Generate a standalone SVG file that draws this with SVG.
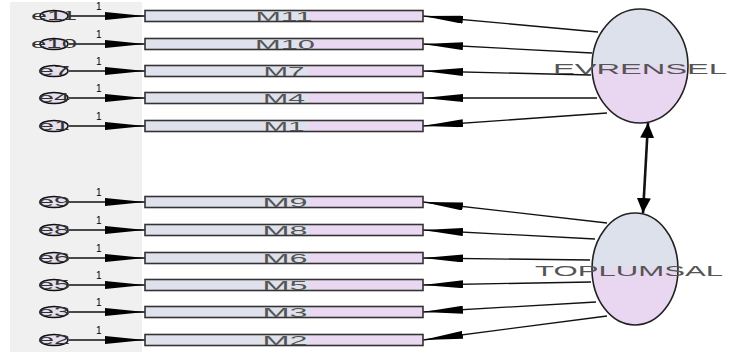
<svg xmlns="http://www.w3.org/2000/svg" width="731" height="356" viewBox="0 0 731 356">
<defs>
<linearGradient id="rg" x1="0" y1="0" x2="1" y2="0">
<stop offset="0" stop-color="#dfe2ec"/><stop offset="0.59" stop-color="#dfe2ec"/><stop offset="0.59" stop-color="#ead8f2"/><stop offset="1" stop-color="#ead8f2"/>
</linearGradient>
<linearGradient id="eg" x1="0" y1="0" x2="0" y2="1">
<stop offset="0" stop-color="#dde1ec"/><stop offset="0.5" stop-color="#dde1ec"/><stop offset="0.5" stop-color="#e9d7f1"/><stop offset="1" stop-color="#e9d7f1"/>
</linearGradient>
<marker id="la" viewBox="0 0 40 8" refX="40" refY="4" markerWidth="40" markerHeight="8" markerUnits="userSpaceOnUse" orient="auto"><path d="M0,0 L40,4 L0,8 z" fill="#000"/></marker>
<marker id="ba" viewBox="0 0 15 14" refX="15" refY="7" markerWidth="15" markerHeight="14" markerUnits="userSpaceOnUse" orient="auto"><path d="M0,0 L15,7 L0,14 z" fill="#000"/></marker>
<marker id="bs" viewBox="0 0 15 14" refX="0" refY="7" markerWidth="15" markerHeight="14" markerUnits="userSpaceOnUse" orient="auto"><path d="M15,0 L0,7 L15,14 z" fill="#000"/></marker>
</defs>
<style>
.obs{fill:url(#rg);stroke:#333;stroke-width:1.6}
.lat{fill:url(#eg);stroke:#222;stroke-width:1.6}
.err{fill:#e6e0ee;stroke:#111;stroke-width:1.6}
.ml{font-family:"Liberation Sans",Arial,sans-serif;font-size:13px;fill:#555;text-anchor:middle}
.el{font-family:"Liberation Sans",Arial,sans-serif;font-size:12px;fill:#333;text-anchor:middle}
.ll{font-family:"Liberation Sans",Arial,sans-serif;font-size:14px;fill:#555;text-anchor:middle}
.one{font-family:"Liberation Sans",Arial,sans-serif;font-size:10px;fill:#000}
.ld{stroke:#111;stroke-width:1.3;fill:none;marker-end:url(#la)}
</style>
<rect x="10" y="2" width="132" height="350" fill="#f0f0f0"/>
<g id="connectors">
<line class="ld" x1="69" y1="16" x2="145" y2="16"/>
<line class="ld" x1="69" y1="44" x2="145" y2="44"/>
<line class="ld" x1="69" y1="71" x2="145" y2="71"/>
<line class="ld" x1="69" y1="98" x2="145" y2="98"/>
<line class="ld" x1="69" y1="126" x2="145" y2="126"/>
<line class="ld" x1="69" y1="202" x2="145" y2="202"/>
<line class="ld" x1="69" y1="230" x2="145" y2="230"/>
<line class="ld" x1="69" y1="258" x2="145" y2="258"/>
<line class="ld" x1="69" y1="285" x2="145" y2="285"/>
<line class="ld" x1="69" y1="312" x2="145" y2="312"/>
<line class="ld" x1="69" y1="340" x2="145" y2="340"/>
<text class="one" x="96" y="10">1</text>
<text class="one" x="96" y="38">1</text>
<text class="one" x="96" y="65">1</text>
<text class="one" x="96" y="92">1</text>
<text class="one" x="96" y="120">1</text>
<text class="one" x="96" y="196">1</text>
<text class="one" x="96" y="224">1</text>
<text class="one" x="96" y="252">1</text>
<text class="one" x="96" y="279">1</text>
<text class="one" x="96" y="306">1</text>
<text class="one" x="96" y="334">1</text>
<line class="ld" x1="598" y1="32" x2="423" y2="16"/>
<line class="ld" x1="592" y1="53" x2="423" y2="44"/>
<line class="ld" x1="591" y1="75" x2="423" y2="71"/>
<line class="ld" x1="597" y1="98" x2="423" y2="98"/>
<line class="ld" x1="607" y1="113" x2="423" y2="126"/>
<line class="ld" x1="607" y1="223" x2="423" y2="202"/>
<line class="ld" x1="595" y1="239" x2="423" y2="230"/>
<line class="ld" x1="590" y1="260" x2="423" y2="258"/>
<line class="ld" x1="591" y1="282" x2="423" y2="285"/>
<line class="ld" x1="596" y1="302" x2="423" y2="312"/>
<line class="ld" x1="607" y1="316" x2="423" y2="340"/>
<line stroke="#111" stroke-width="2.6" x1="648" y1="123" x2="643" y2="213" marker-start="url(#bs)" marker-end="url(#ba)"/>
</g>
<g id="e11"><ellipse class="err" cx="54" cy="16" rx="14" ry="5.5"/><text class="el" x="54" y="20" textLength="46" lengthAdjust="spacingAndGlyphs">e11</text></g>
<g id="e10"><ellipse class="err" cx="54" cy="44" rx="14" ry="5.5"/><text class="el" x="54" y="48" textLength="46" lengthAdjust="spacingAndGlyphs">e10</text></g>
<g id="e7"><ellipse class="err" cx="54" cy="71" rx="14" ry="5.5"/><text class="el" x="54" y="75" textLength="32" lengthAdjust="spacingAndGlyphs">e7</text></g>
<g id="e4"><ellipse class="err" cx="54" cy="98" rx="14" ry="5.5"/><text class="el" x="54" y="102" textLength="32" lengthAdjust="spacingAndGlyphs">e4</text></g>
<g id="e1"><ellipse class="err" cx="54" cy="126" rx="14" ry="5.5"/><text class="el" x="54" y="130" textLength="32" lengthAdjust="spacingAndGlyphs">e1</text></g>
<g id="e9"><ellipse class="err" cx="54" cy="202" rx="14" ry="5.5"/><text class="el" x="54" y="206" textLength="32" lengthAdjust="spacingAndGlyphs">e9</text></g>
<g id="e8"><ellipse class="err" cx="54" cy="230" rx="14" ry="5.5"/><text class="el" x="54" y="234" textLength="32" lengthAdjust="spacingAndGlyphs">e8</text></g>
<g id="e6"><ellipse class="err" cx="54" cy="258" rx="14" ry="5.5"/><text class="el" x="54" y="262" textLength="32" lengthAdjust="spacingAndGlyphs">e6</text></g>
<g id="e5"><ellipse class="err" cx="54" cy="285" rx="14" ry="5.5"/><text class="el" x="54" y="289" textLength="32" lengthAdjust="spacingAndGlyphs">e5</text></g>
<g id="e3"><ellipse class="err" cx="54" cy="312" rx="14" ry="5.5"/><text class="el" x="54" y="316" textLength="32" lengthAdjust="spacingAndGlyphs">e3</text></g>
<g id="e2"><ellipse class="err" cx="54" cy="340" rx="14" ry="5.5"/><text class="el" x="54" y="344" textLength="32" lengthAdjust="spacingAndGlyphs">e2</text></g>
<g id="M11"><rect class="obs" x="145" y="10.5" width="278" height="11"/><text class="ml" x="284" y="21" textLength="57" lengthAdjust="spacingAndGlyphs">M11</text></g>
<g id="M10"><rect class="obs" x="145" y="38.5" width="278" height="11"/><text class="ml" x="285" y="49" textLength="60" lengthAdjust="spacingAndGlyphs">M10</text></g>
<g id="M7"><rect class="obs" x="145" y="65.5" width="278" height="11"/><text class="ml" x="284" y="76" textLength="41" lengthAdjust="spacingAndGlyphs">M7</text></g>
<g id="M4"><rect class="obs" x="145" y="92.5" width="278" height="11"/><text class="ml" x="284" y="103" textLength="42" lengthAdjust="spacingAndGlyphs">M4</text></g>
<g id="M1"><rect class="obs" x="145" y="120.5" width="278" height="11"/><text class="ml" x="284" y="131" textLength="41" lengthAdjust="spacingAndGlyphs">M1</text></g>
<g id="M9"><rect class="obs" x="145" y="196.5" width="278" height="11"/><text class="ml" x="285" y="207" textLength="45" lengthAdjust="spacingAndGlyphs">M9</text></g>
<g id="M8"><rect class="obs" x="145" y="224.5" width="278" height="11"/><text class="ml" x="285" y="235" textLength="45" lengthAdjust="spacingAndGlyphs">M8</text></g>
<g id="M6"><rect class="obs" x="145" y="252.5" width="278" height="11"/><text class="ml" x="285" y="263" textLength="45" lengthAdjust="spacingAndGlyphs">M6</text></g>
<g id="M5"><rect class="obs" x="145" y="279.5" width="278" height="11"/><text class="ml" x="285" y="290" textLength="45" lengthAdjust="spacingAndGlyphs">M5</text></g>
<g id="M3"><rect class="obs" x="145" y="306.5" width="278" height="11"/><text class="ml" x="285" y="317" textLength="45" lengthAdjust="spacingAndGlyphs">M3</text></g>
<g id="M2"><rect class="obs" x="145" y="334.5" width="278" height="11"/><text class="ml" x="285" y="345" textLength="45" lengthAdjust="spacingAndGlyphs">M2</text></g>
<g id="EVRENSEL"><ellipse class="lat" cx="640" cy="66" rx="48" ry="57"/><text class="ll" x="640" y="74" textLength="174" lengthAdjust="spacingAndGlyphs">EVRENSEL</text></g>
<g id="TOPLUMSAL"><ellipse class="lat" cx="635" cy="269" rx="43" ry="56"/><text class="ll" x="629" y="276" textLength="188" lengthAdjust="spacingAndGlyphs">TOPLUMSAL</text></g>
</svg>
